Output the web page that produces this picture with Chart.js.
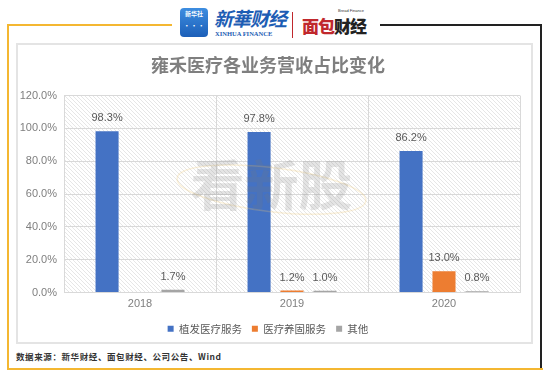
<!DOCTYPE html>
<html>
<head>
<meta charset="utf-8">
<script src="https://cdn.jsdelivr.net/npm/chart.js@4"></script>
<style>
    html, body { margin: 0; padding: 0; background: #fff; }
    body { width: 550px; height: 376px; position: relative; overflow: hidden; font-family: "Noto Sans CJK SC", sans-serif; }
    .line { position: absolute; }
    .panel { position: absolute; left: 16px; top: 43px; width: 517px; height: 301px; box-sizing: border-box; border: 2px solid #e4e4e4; }
    .chart-wrap { position: absolute; left: 16px; top: 43px; width: 517px; height: 301px; }
    .logo-box { position: absolute; left: 180px; top: 8px; width: 28px; height: 29px; border-radius: 4px; background: linear-gradient(#3d8de0, #1c5fb8); color: #fff; font-size: 6px; text-align: center; line-height: 12px; font-weight: bold; }
    .xh { position: absolute; left: 214px; top: 4px; font-size: 19px; font-weight: bold; font-style: italic; color: #1d5db4; letter-spacing: -1px; font-family: "Noto Sans CJK SC", serif; }
    .xh-en { position: absolute; left: 215px; top: 30px; font-size: 6.5px; font-weight: bold; color: #1d5db4; font-family: "Liberation Serif", serif; }
    .mb { position: absolute; left: 302px; top: 13px; font-size: 17px; font-weight: 900; letter-spacing: -1px; }
    .mb-en { position: absolute; left: 338px; top: 8px; font-size: 4px; color: #333; font-family: "Liberation Sans", sans-serif; }
    .source { position: absolute; left: 16px; top: 350px; font-size: 8.5px; font-weight: bold; color: #333; letter-spacing: 0.6px; font-family: "Noto Sans CJK SC", monospace; }
</style>
</head>
<body>
<!-- outer frame -->
<div class="line" style="left:7px; top:24px; width:165px; height:2px; background:#f4b731;"></div>
<div class="line" style="left:7px; top:24px; width:2px; height:346px; background:#f4b731;"></div>
<div class="line" style="left:7px; top:368px; width:536px; height:2px; background:#f4b731;"></div>
<div class="line" style="left:380px; top:24px; width:162px; height:2px; background:#222;"></div>
<div class="line" style="left:540px; top:24px; width:2px; height:344px; background:#222;"></div>

<!-- header logos -->
<div class="logo-box">新华社<br>· · ·</div>
<div class="xh">新華财经</div>
<div class="xh-en">XINHUA FINANCE</div>
<div class="line" style="left:292px; top:12px; width:1px; height:26px; background:#c0282d;"></div>
<div class="mb-en">Bread Finance</div>
<div class="mb"><span style="color:#c0282d;">面包</span><span style="color:#222;">财经</span></div>

<div class="panel"></div>
<div class="chart-wrap"><canvas id="shareChart"></canvas></div>
<div class="source">数据来源：新华财经、面包财经、公司公告、Wind</div>

<script>
const years = ['2018', '2019', '2020'];
const hairTransplant = [98.3, 97.8, 86.2];
const hairCare = [null, 1.2, 13.0];
const others = [1.7, 1.0, 0.8];
const seriesNames = ['植发医疗服务', '医疗养固服务', '其他'];

Chart.defaults.font.family = '"Noto Sans CJK SC", "Liberation Sans", sans-serif';

// diagonal hatch behind the plot
function makeHatch() {
    const c = document.createElement('canvas');
    c.width = 4; c.height = 4;
    const g = c.getContext('2d');
    g.strokeStyle = '#e6e6e6';
    g.lineWidth = 1;
    g.beginPath();
    g.moveTo(-1, -1); g.lineTo(5, 5);
    g.moveTo(-1, 3); g.lineTo(1, 5);
    g.moveTo(3, -1); g.lineTo(5, 1);
    g.stroke();
    return g.createPattern(c, 'repeat');
}

const plotBackground = {
    id: 'plotBackground',
    beforeDraw(chart) {
        const { ctx, chartArea: a } = chart;
        ctx.save();
        ctx.fillStyle = makeHatch();
        ctx.fillRect(a.left, a.top, a.right - a.left, a.bottom - a.top);
        ctx.restore();
    }
};

const watermark = {
    id: 'watermark',
    afterDatasetsDraw(chart) {
        const { ctx, chartArea: a } = chart;
        const cx = a.left + (a.right - a.left) * 0.455;
        const cy = a.top + 90;
        ctx.save();
        ctx.strokeStyle = 'rgba(240, 200, 110, 0.25)';
        ctx.lineWidth = 1.5;
        ctx.beginPath();
        ctx.ellipse(cx, cy + 4, 95, 22, 0.12, 0, Math.PI * 2);
        ctx.stroke();
        ctx.fillStyle = 'rgba(120, 120, 120, 0.2)';
        ctx.font = 'bold 54px "Noto Sans CJK SC"';
        ctx.textAlign = 'center';
        ctx.textBaseline = 'middle';
        ctx.fillText('看新股', cx, cy);
        ctx.restore();
    }
};

const valueLabels = {
    id: 'valueLabels',
    afterDatasetsDraw(chart) {
        const { ctx } = chart;
        ctx.save();
        ctx.fillStyle = '#595959';
        ctx.font = '11px "Liberation Sans", sans-serif';
        ctx.textAlign = 'center';
        ctx.textBaseline = 'middle';
        chart.data.datasets.forEach((ds, i) => {
            chart.getDatasetMeta(i).data.forEach((bar, j) => {
                const v = ds.data[j];
                if (v == null) return;
                ctx.fillText(v.toFixed(1) + '%', bar.x, bar.y - 13);
            });
        });
        ctx.restore();
    }
};

new Chart(document.getElementById('shareChart'), {
    type: 'bar',
    data: {
        labels: years,
        datasets: [
            { label: seriesNames[0], data: hairTransplant, backgroundColor: '#4472C4' },
            { label: seriesNames[1], data: hairCare, backgroundColor: '#ED7D31' },
            { label: seriesNames[2], data: others, backgroundColor: '#A5A5A5' },
        ]
    },
    options: {
        responsive: true,
        maintainAspectRatio: false,
        animation: false,
        datasets: { bar: { barPercentage: 0.7, categoryPercentage: 0.65 } },
        layout: { padding: { left: 0, right: 13, top: 0, bottom: 0 } },
        plugins: {
            title: {
                display: true,
                text: '雍禾医疗各业务营收占比变化',
                color: '#7f7f7f',
                font: { size: 18, weight: 'bold' },
                padding: { top: 11, bottom: 20 }
            },
            legend: {
                position: 'bottom',
                labels: {
                    color: '#595959',
                    boxWidth: 6,
                    boxHeight: 6,
                    padding: 10,
                    font: { size: 10.5 }
                }
            },
            tooltip: { enabled: false }
        },
        scales: {
            x: {
                afterFit(scale) { scale.height = 21; },
                grid: { color: '#d9d9d9', drawTicks: false },
                border: { color: '#d9d9d9' },
                ticks: { color: '#7f7f7f', padding: 5, font: { size: 11, family: '"Liberation Sans", sans-serif' } }
            },
            y: {
                min: 0,
                max: 120,
                afterFit(scale) { scale.width = 48; },
                grid: { color: '#d9d9d9', drawTicks: false },
                border: { color: '#d9d9d9' },
                ticks: {
                    stepSize: 20,
                    color: '#7f7f7f',
                    padding: 7,
                    font: { size: 11, family: '"Liberation Sans", sans-serif' },
                    callback: v => v.toFixed(1) + '%'
                }
            }
        }
    },
    plugins: [plotBackground, watermark, valueLabels]
});
</script>
</body>
</html>
